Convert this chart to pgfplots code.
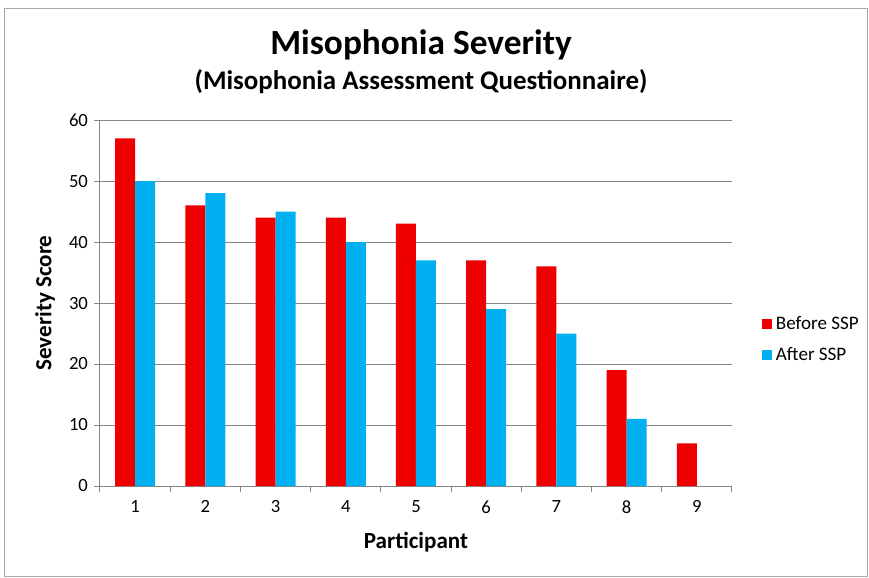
\documentclass[border=0pt]{standalone}
\usepackage{pgfplots}
\pgfplotsset{compat=1.18}
\usepackage{fontspec}
\setmainfont{Carlito}
\definecolor{barred}{RGB}{238,0,0}
\definecolor{barblue}{RGB}{0,176,240}
\definecolor{axgray}{RGB}{134,134,134}
\begin{document}
\begin{tikzpicture}[x=0.75pt,y=-0.75pt]
\path[use as bounding box] (0,0) rectangle (869,578);
\draw[color=axgray!70,line width=0.6pt] (4,8) rectangle (867,576);
\node[font=\fontsize{26.5}{30}\selectfont\bfseries] at (421,45) {Misophonia Severity};
\node[font=\fontsize{20.2}{24}\selectfont\bfseries] at (421,82) {(Misophonia Assessment Questionnaire)};
\begin{axis}[
  at={(75pt,-364.5pt)}, anchor=south west,
  scale only axis, width=474pt, height=274.5pt,
  ybar=0pt, bar width=15pt,
  xmin=0.5, xmax=9.5, ymin=0, ymax=60,
  xtick={1,...,9}, major x tick style={draw=none},
  minor xtick={0.5,1.5,...,9.5},
  ytick={0,10,...,60},
  tick align=outside, major tick length=4.5pt, minor tick length=4.5pt,
  every tick/.style={axgray, line width=0.75pt},
  axis x line*=bottom, axis y line*=left,
  axis line style={axgray, line width=0.75pt, -},
  ymajorgrids, grid style={axgray, line width=0.75pt},
  tick label style={font=\fontsize{14}{16}\selectfont},
  /pgf/number format/assume math mode=true,
  xticklabel style={yshift=-3pt},
  yticklabel style={xshift=-1pt},
  xlabel={Participant}, ylabel={Severity Score},
  label style={font=\fontsize{17.3}{20}\selectfont\bfseries},
  xlabel style={at={(axis description cs:0.5,-0.153)}, anchor=center},
  ylabel style={at={(axis description cs:-0.087,0.5)}, anchor=center},
  legend cell align=left,
  legend style={draw=none, fill=none, at={(1.047,0.40)}, anchor=west,
    font=\fontsize{14.3}{16}\selectfont, row sep=8pt, inner sep=0pt,
    nodes={inner xsep=3pt}},
  legend image code/.code={\fill[#1,draw=none] (0pt,-3.75pt) rectangle (7.5pt,3.75pt);},
]
\addplot[fill=barred, draw=none] coordinates {(1,57) (2,46) (3,44) (4,44) (5,43) (6,37) (7,36) (8,19) (9,7)};
\addplot[fill=barblue, draw=none] coordinates {(1,50) (2,48) (3,45) (4,40) (5,37) (6,29) (7,25) (8,11)};
\legend{Before SSP, After SSP}
\end{axis}
\end{tikzpicture}
\end{document}
